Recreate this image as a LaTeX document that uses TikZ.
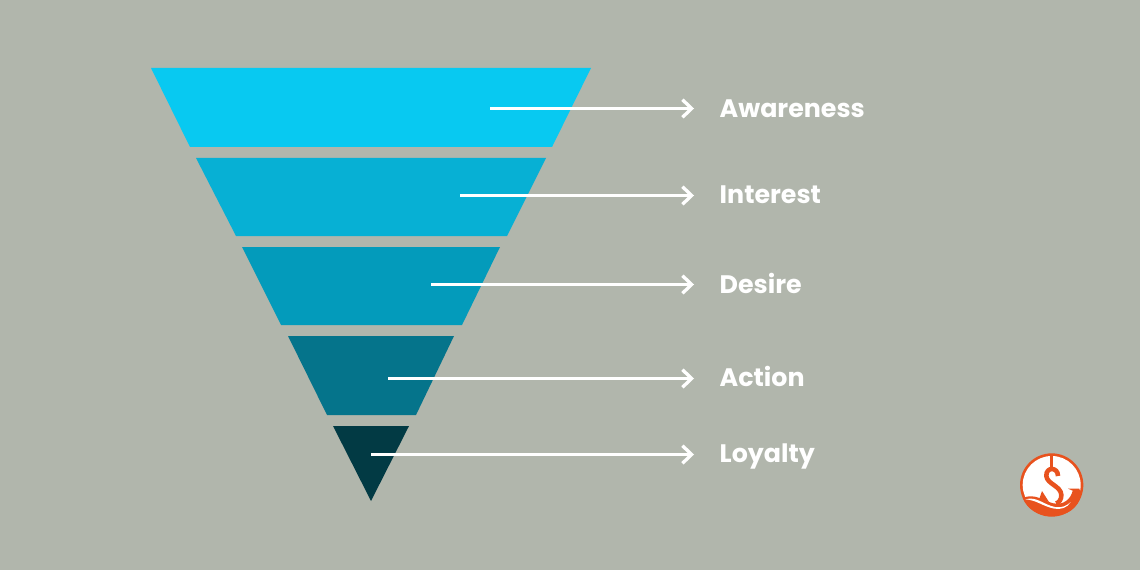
\documentclass[tikz,border=0pt]{standalone}
\usepackage{fontspec}
\setmainfont{Poppins}
\usetikzlibrary{arrows.meta}
\definecolor{bgcol}{HTML}{B1B6AC}
\definecolor{bandA}{HTML}{08C9F1}
\definecolor{bandB}{HTML}{07B0D4}
\definecolor{bandC}{HTML}{039BBB}
\definecolor{bandD}{HTML}{05748B}
\definecolor{bandE}{HTML}{023A44}
\definecolor{logocol}{HTML}{E8521E}
\begin{document}
\begin{tikzpicture}[x=0.01cm,y=-0.01cm,line join=round,>={Straight Barb[length=2.6pt,width=5pt,line width=.95pt]}]
    \tikzset{label style/.style={font=\bfseries\fontsize{7.2}{9}\selectfont,text=white,anchor=base west,inner sep=0pt}}
    \tikzset{pointer/.style={->,white,line width=1pt,shorten >=25*0.01cm}}
    %% background
    \fill[bgcol] (0,0) rectangle (1140,570);
    \useasboundingbox (0,0) rectangle (1140,570);
    %% funnel bands
    \fill[bandA] (151,68)--(591,68)--(552,147)--(190,147)--cycle;
    \fill[bandB] (196,158)--(546,158)--(507,236)--(236,236)--cycle;
    \fill[bandC] (242,247)--(500,247)--(462,325)--(281,325)--cycle;
    \fill[bandD] (288,336)--(454,336)--(416,415)--(327,415)--cycle;
    \fill[bandE] (333,426)--(409,426)--(371,501)--cycle;
    %% labels and pointers
    \foreach \name/\txt/\xs/\ys/\yb in {aware/Awareness/490/108.5/117.5,inter/Interest/460/195.5/203,desire/Desire/431/284.5/293,action/Action/388/378.5/386,loyal/Loyalty/371/454.5/462}{
        \coordinate (\name s) at (\xs,\ys);
        \node[label style] (\name) at (719,\yb) {\txt};
        \draw[pointer] (\name s)--(\name.west |- \name s);
    }
    %% logo
    \begin{scope}[shift={(1000,440)},scale=1/3]
        \fill[logocol] (155,135) circle (95);
        \fill[white] (155,135) circle (87);
        %% wave with the right barb
        \fill[logocol] (68,174) .. controls (105,158) and (130,183) .. (160,190) .. controls (190,196) and (212,178) .. (218,152) -- (204,146) -- (238,146) -- (243,165) .. controls (235,205) and (200,228) .. (155,228) .. controls (115,228) and (82,208) .. (68,174) -- cycle;
        \fill[white] (76,178) .. controls (110,168) and (130,194) .. (165,201) .. controls (185,204) and (200,198) .. (212,186) .. controls (202,204) and (182,209) .. (163,206) .. controls (130,200) and (110,180) .. (76,178) -- cycle;
        %% hook
        \draw[logocol,line width=.8pt] (155,45)--(155,85);
        \draw[logocol,line width=1.3pt] (174,108) .. controls (174,80) and (137,80) .. (139,108) .. controls (141,132) and (183,138) .. (184,165) .. controls (185,178) and (175,190) .. (168,190);
        \fill[logocol] (118,176)--(126,153)--(147,186)--cycle;
    \end{scope}
\end{tikzpicture}
\end{document}
